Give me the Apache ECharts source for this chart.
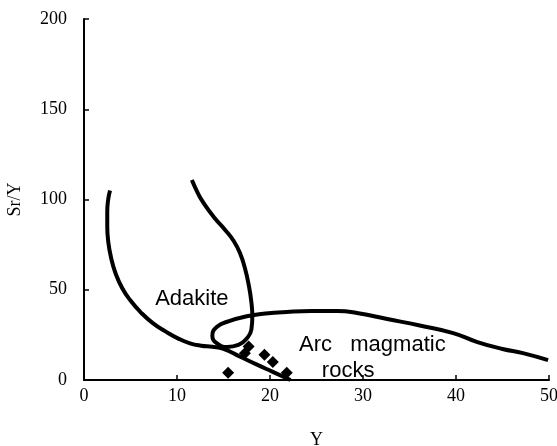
<!DOCTYPE html>
<html>
<head>
<meta charset="utf-8">
<script src="https://cdn.jsdelivr.net/npm/echarts@6/dist/echarts.min.js"></script>
<style>html,body{margin:0;padding:0;background:#fff;}#c{width:557px;height:446px;}</style>
</head>
<body>
<div id="c"></div>
<script>
// Adakite field left boundary continuing as lower boundary
var curveA = [[2.8,105],[2.6,100],[2.5,93],[2.5,85],[2.6,77],[2.9,68],[3.4,59],[4.1,51],[5,44],[6.1,37.5],[7.4,31.5],[8.8,26.8],[10.2,22.8],[11.4,20.3],[12.6,19],[13.8,18.4],[15,17.3],[16.8,12.9],[18.6,8.5],[20.3,4.5],[22.2,0]];
// Adakite field right boundary, looping into arc magmatic rocks upper boundary
var curveB = [[11.6,110.8],[12.2,104],[12.8,98.5],[14,90],[15.2,83],[16.1,77],[16.8,70],[17.3,62],[17.7,53],[18,43],[18.1,35],[18,28],[17.5,23],[16.6,19.4],[15.4,18.3],[14.3,20.3],[13.8,24.5],[14.3,29.5],[15.6,32.6],[17.5,35.3],[19.5,36.8],[21.8,37.7],[24.5,38.2],[27.2,38.2],[29.5,37],[32.6,33.8],[36.1,30.2],[39.7,26],[42.3,21],[45,17.2],[47.2,14.9],[49.9,11]];
// Samples (Y, Sr/Y)
var samples = [[15.5,4],[17.7,18.5],[17.3,14.8],[19.4,14],[20.3,10],[21.8,4]];
// Field labels
var fieldLabels = [
  {name:'Adakite', value:[11.6,44.8]},
  {name:'Arc   magmatic', value:[31.0,19.2]},
  {name:'rocks', value:[28.4,5.2]}
];
var xTicks = {min:0, max:50, interval:10};
var yTicks = {min:0, max:200, interval:50};

var chart = echarts.init(document.getElementById('c'));
var serif = '"Liberation Serif","DejaVu Serif",serif';
chart.setOption({
  animation:false,
  backgroundColor:'#fff',
  grid:{left:84, right:8, top:19, bottom:66, containLabel:false, outerBoundsMode:'none'},
  xAxis:{type:'value', min:xTicks.min, max:xTicks.max, interval:xTicks.interval,
    name:'Y', nameLocation:'middle', nameGap:51,
    nameTextStyle:{fontFamily:serif, fontSize:18, color:'#000'},
    axisLine:{show:true, lineStyle:{color:'#000', width:2}},
    axisTick:{show:true, inside:true, length:5, lineStyle:{color:'#000', width:1.5}},
    axisLabel:{fontFamily:serif, fontSize:18, color:'#000', margin:7},
    splitLine:{show:false}},
  yAxis:{type:'value', min:yTicks.min, max:yTicks.max, interval:yTicks.interval,
    name:'Sr/Y', nameLocation:'middle', nameGap:60,
    nameTextStyle:{fontFamily:serif, fontSize:18, color:'#000'},
    axisLine:{show:true, lineStyle:{color:'#000', width:2}},
    axisTick:{show:true, inside:true, length:5, lineStyle:{color:'#000', width:1.5}},
    axisLabel:{fontFamily:serif, fontSize:18, color:'#000', margin:17},
    splitLine:{show:false}},
  series:[
    {type:'line', data:curveA, smooth:0.5, showSymbol:false, lineStyle:{color:'#000', width:4}},
    {type:'line', data:curveB, smooth:0.5, showSymbol:false, lineStyle:{color:'#000', width:4}},
    {type:'scatter', data:samples, symbol:'diamond', symbolSize:12, itemStyle:{color:'#000', opacity:1}},
    {type:'scatter', data:fieldLabels, symbolSize:0, itemStyle:{opacity:1},
      label:{show:true, position:'inside', formatter:'{b}', color:'#000',
        fontFamily:'"Liberation Sans",Arial,sans-serif', fontSize:22}}
  ]
});
</script>
</body>
</html>
